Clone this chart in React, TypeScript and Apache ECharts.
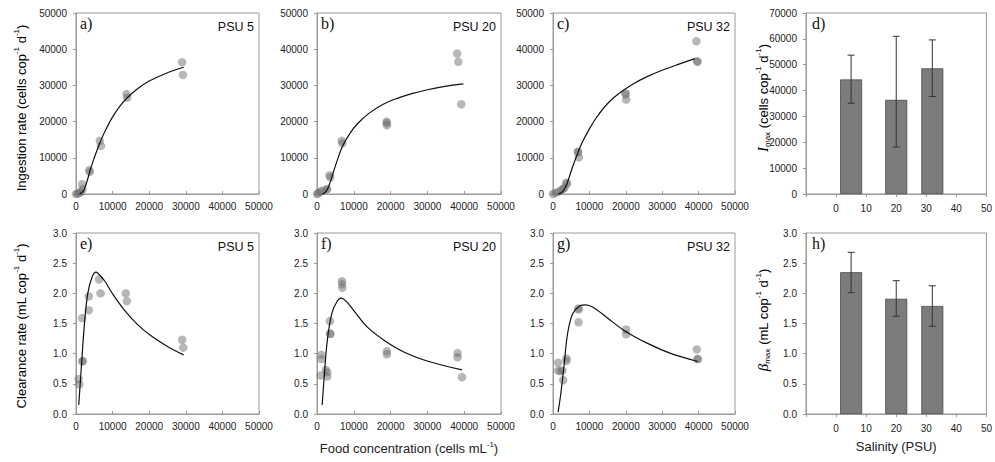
import React, { useEffect, useRef } from "react";
import * as echarts from "echarts";

// ---- Data ----
const scatterA = [[0,0],[400,100],[900,300],[1400,600],[1800,1400],[1700,2700],[3600,6600],[3800,6100],[6500,14700],[6800,13300],[13800,27600],[14000,26600],[29000,36400],[29200,32900]];
const curveA = [[1000,0],[2000,800],[3000,3500],[4000,7000],[5000,10000],[6000,12800],[7000,15300],[8000,17500],[10000,21300],[12000,24300],[14000,26600],[17000,29200],[20000,31200],[25000,33500],[29400,35000]];

const scatterB = [[0,0],[300,200],[900,600],[1400,900],[2500,1200],[2800,1400],[3400,5200],[3600,4600],[6700,14700],[6900,14000],[18900,20000],[19000,19600],[19000,19000],[38100,38800],[38400,36500],[39200,24800]];
const curveB = [[1400,0],[2500,700],[3500,3000],[4500,6200],[5500,9300],[7000,13300],[9000,16800],[11000,19400],[14000,22200],[18000,24800],[22000,26500],[26000,27800],[30000,28800],[34000,29600],[39800,30400]];

const scatterC = [[0,0],[700,300],[1400,600],[2300,1100],[2800,1400],[3200,1800],[3600,3100],[3900,2900],[6800,11700],[7100,10100],[6900,11500],[19900,27900],[20100,26100],[20000,27500],[39400,42200],[39700,36500],[39600,36700]];
const curveC = [[1400,0],[2500,500],[3500,2000],[4500,4800],[5500,7800],[6500,10500],[8000,14200],[10000,18000],[12000,21200],[15000,25000],[18000,27700],[22000,30400],[26000,32500],[30000,34200],[35000,36000],[39000,37400]];

const salinity = [5, 20, 32];
const imax = [44300, 36400, 48600];
const imaxLow = [35100, 18200, 37700];
const imaxHigh = [53700, 61000, 59600];

const scatterE = [[700,0.58],[900,0.49],[1700,0.87],[1900,0.88],[1700,1.59],[3500,1.95],[3500,1.72],[6300,2.23],[6700,2.00],[13600,2.00],[13900,1.87],[29000,1.23],[29300,1.10]];
const curveE = [[750,0.15],[1400,0.72],[2300,1.49],[3200,1.99],[4400,2.27],[5500,2.35],[6500,2.30],[7900,2.20],[10000,1.99],[13000,1.74],[16700,1.49],[20400,1.30],[25000,1.12],[29400,0.98]];

const scatterF = [[1200,0.98],[1200,0.91],[1000,0.64],[2400,0.73],[2800,0.69],[2800,0.62],[3500,1.54],[3500,1.33],[3700,1.33],[6800,2.20],[6800,2.15],[6900,2.09],[19000,1.04],[19000,0.99],[38200,1.01],[38200,0.94],[39400,0.61]];
const curveF = [[1400,0.15],[1950,0.61],[2800,1.22],[4000,1.66],[5400,1.86],[6600,1.92],[8200,1.85],[10300,1.69],[13700,1.44],[18300,1.22],[23900,1.02],[30400,0.87],[39400,0.73]];

const scatterG = [[1400,0.85],[1400,0.72],[2000,0.71],[2600,0.72],[2800,0.56],[3700,0.92],[3700,0.88],[7000,1.75],[7000,1.73],[7000,1.52],[20100,1.40],[20100,1.32],[39500,1.07],[39800,0.91],[39700,0.91]];
const curveG = [[1400,0.03],[2150,0.34],[3100,0.84],[4000,1.33],[5400,1.66],[7300,1.79],[9000,1.81],[11000,1.77],[14800,1.60],[19400,1.39],[26000,1.17],[32500,1.00],[39800,0.87]];

const beta = [2.35, 1.91, 1.79];
const betaLow = [2.01, 1.62, 1.455];
const betaHigh = [2.68, 2.21, 2.125];

const panelLetters = ["a)", "b)", "c)", "d)", "e)", "f)", "g)", "h)"];
const psuLabels = ["PSU 5", "PSU 20", "PSU 32", "", "PSU 5", "PSU 20", "PSU 32", ""];

// ---- Layout ----
const GRIDS = [
  { left: 76, top: 13, width: 183, height: 181 },
  { left: 317, top: 13, width: 184, height: 181 },
  { left: 553, top: 13, width: 182, height: 181 },
  { left: 806, top: 13, width: 182, height: 181 },
  { left: 76, top: 233, width: 183, height: 181 },
  { left: 317, top: 233, width: 184, height: 181 },
  { left: 553, top: 233, width: 182, height: 181 },
  { left: 806, top: 233, width: 182, height: 181 },
];

const SANS = "'Liberation Sans', Arial, sans-serif";
const SERIF = "'Liberation Serif', 'Times New Roman', serif";
const AXIS_COLOR = "#9a9a9a";
const LABEL_COLOR = "#222";
const PT_COLOR = "rgba(110,110,110,0.62)";

const RICH = {
  t: { fontSize: 13, fontFamily: SANS, color: LABEL_COLOR, lineHeight: 17 },
  s: { fontSize: 8, fontFamily: SANS, color: LABEL_COLOR, lineHeight: 17, verticalAlign: "top" },
  b: { fontSize: 8, fontFamily: SANS, color: LABEL_COLOR, lineHeight: 17, verticalAlign: "bottom" },
  i: { fontSize: 15, fontFamily: SERIF, fontStyle: "italic", color: LABEL_COLOR, lineHeight: 17 },
};

function App() {
  const ref = useRef<HTMLDivElement>(null);

  useEffect(() => {
    if (!ref.current) return;
    const chart = echarts.init(ref.current, null, { renderer: "svg" });

    const isBar = (i: number) => i === 3 || i === 7;
    const isBottom = (i: number) => i >= 4;

    const xAxes = GRIDS.map((_, i) => ({
      type: "value",
      gridIndex: i,
      min: isBar(i) ? -10 : 0,
      max: isBar(i) ? 50 : 50000,
      interval: isBar(i) ? 10 : 10000,
      splitLine: { show: false },
      axisLine: { show: true, onZero: false, lineStyle: { color: AXIS_COLOR, width: 1 } },
      axisTick: { show: true, inside: !isBar(i), length: 3, lineStyle: { color: AXIS_COLOR } },
      axisLabel: {
        show: true,
        fontSize: 10,
        fontFamily: SANS,
        color: LABEL_COLOR,
        margin: isBar(i) ? 9 : 7,
        showMinLabel: true,
        showMaxLabel: true,
        formatter: (v: number) => (v < 0 ? "" : String(v)),
      },
      name: i === 5 ? "Food concentration (cells mL{s|-1})" : i === 7 ? "Salinity (PSU)" : "",
      nameLocation: "middle",
      nameGap: 26,
      nameTextStyle: { fontSize: 13, fontFamily: SANS, color: LABEL_COLOR, rich: RICH },
    }));

    const yAxes = GRIDS.map((_, i) => ({
      type: "value",
      gridIndex: i,
      min: 0,
      max: isBottom(i) ? 3 : isBar(i) ? 70000 : 50000,
      interval: isBottom(i) ? 0.5 : 10000,
      splitLine: { show: false },
      axisLine: { show: true, onZero: false, lineStyle: { color: AXIS_COLOR, width: 1 } },
      axisTick: { show: true, inside: false, length: 3, lineStyle: { color: AXIS_COLOR } },
      axisLabel: {
        show: true,
        fontSize: 10,
        fontFamily: SANS,
        color: LABEL_COLOR,
        margin: 9,
        showMinLabel: true,
        showMaxLabel: true,
        formatter: (v: number) => (isBottom(i) ? v.toFixed(1) : String(v)),
      },
    }));

    const scatterSets = [scatterA, scatterB, scatterC, null, scatterE, scatterF, scatterG, null];
    const curveSets = [curveA, curveB, curveC, null, curveE, curveF, curveG, null];

    const series: any[] = [];
    scatterSets.forEach((d, i) => {
      if (!d) return;
      series.push({
        type: "scatter",
        xAxisIndex: i,
        yAxisIndex: i,
        data: d,
        symbol: "circle",
        symbolSize: 8.5,
        clip: false,
        itemStyle: { color: PT_COLOR, borderWidth: 0 },
        z: 2,
      });
    });
    curveSets.forEach((d, i) => {
      if (!d) return;
      series.push({
        type: "line",
        xAxisIndex: i,
        yAxisIndex: i,
        data: d,
        smooth: 0.35,
        showSymbol: false,
        symbol: "none",
        lineStyle: { color: "#111", width: 1.2 },
        z: 3,
      });
    });

    const barPanels = [
      { idx: 3, vals: imax, low: imaxLow, high: imaxHigh },
      { idx: 7, vals: beta, low: betaLow, high: betaHigh },
    ];
    barPanels.forEach((p) => {
      series.push({
        type: "bar",
        xAxisIndex: p.idx,
        yAxisIndex: p.idx,
        data: salinity.map((s, k) => [s, p.vals[k]]),
        barWidth: 22,
        itemStyle: { color: "#7c7c7c", borderColor: "#4a4a4a", borderWidth: 0.8 },
        z: 2,
      });
      series.push({
        type: "custom",
        xAxisIndex: p.idx,
        yAxisIndex: p.idx,
        data: salinity.map((s, k) => [s, p.low[k], p.high[k]]),
        renderItem: (params: any, api: any) => {
          const lo = api.coord([api.value(0), api.value(1)]);
          const hi = api.coord([api.value(0), api.value(2)]);
          const w = 3.5;
          const st = { stroke: "#333", lineWidth: 1 };
          return {
            type: "group",
            children: [
              { type: "line", shape: { x1: lo[0], y1: lo[1], x2: hi[0], y2: hi[1] }, style: st },
              { type: "line", shape: { x1: lo[0] - w, y1: lo[1], x2: lo[0] + w, y2: lo[1] }, style: st },
              { type: "line", shape: { x1: hi[0] - w, y1: hi[1], x2: hi[0] + w, y2: hi[1] }, style: st },
            ],
          };
        },
        z: 4,
      });
    });

    const graphics: any[] = [];
    GRIDS.forEach((g, i) => {
      graphics.push({
        type: "text",
        left: g.left + (isBar(i) ? 6 : 4),
        top: g.top + 2,
        style: { text: panelLetters[i], fontFamily: SERIF, fontSize: 16, fill: "#111" },
      });
      if (psuLabels[i]) {
        graphics.push({
          type: "text",
          x: g.left + g.width - 5,
          y: g.top + 14,
          style: {
            text: psuLabels[i],
            fontFamily: SANS,
            fontSize: 12.5,
            fill: "#111",
            align: "right",
            verticalAlign: "middle",
          },
        });
      }
    });

    const yTitles = [
      { x: 21, y: 108, text: "{t|Ingestion rate (cells cop}{s|-1}{t| d}{s|-1}{t|)}" },
      { x: 21, y: 326, text: "{t|Clearance rate (mL cop}{s|-1}{t| d}{s|-1}{t|)}" },
      { x: 763, y: 98, text: "{i|I}{b|max}{t| (cells cop}{s|-1}{t| d}{s|-1}{t|)}" },
      { x: 763, y: 320, text: "{i|β}{b|max}{t| (mL cop}{s|-1}{t| d}{s|-1}{t|)}" },
    ];
    yTitles.forEach((t) => {
      graphics.push({
        type: "text",
        x: t.x,
        y: t.y,
        rotation: Math.PI / 2,
        style: { text: t.text, rich: RICH, align: "center", verticalAlign: "middle" },
      });
    });

    chart.setOption({
      animation: false,
      backgroundColor: "#fff",
      grid: GRIDS.map((g) => ({ ...g, show: true, borderColor: AXIS_COLOR, borderWidth: 1, backgroundColor: "transparent" })),
      xAxis: xAxes,
      yAxis: yAxes,
      series,
      graphic: graphics,
    });

    return () => chart.dispose();
  }, []);

  return (
    <div
      ref={ref}
      style={{ position: "absolute", left: 0, top: 0, width: 995, height: 462, background: "#fff" }}
    />
  );
}

export default App;
